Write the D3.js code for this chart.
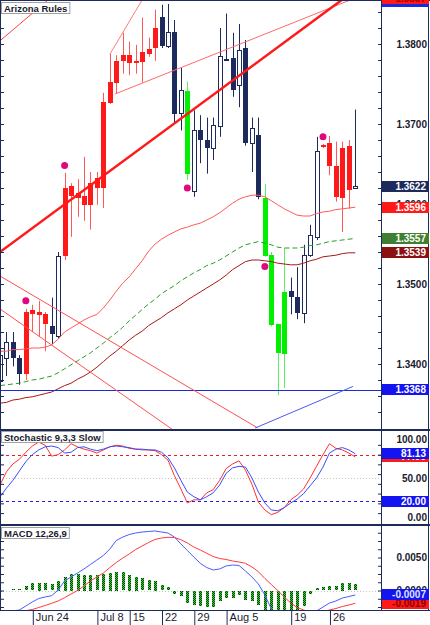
<!DOCTYPE html>
<html>
<head>
<meta charset="utf-8">
<script src="https://cdn.jsdelivr.net/npm/d3@7"></script>
<style>
body{margin:0;background:#fff;}
svg{display:block;font-family:"Liberation Sans",Arial,sans-serif;}
</style>
</head>
<body>
<svg id="chart" width="430" height="625"></svg>
<script>
// ---- data ----
const firstBar = -5; // bar index of leftmost candle, 0 = Jun 24
const kinds = ['u','u','d','d','r', 'r','r','r','d','u', 'r','r','r','r','r', 'r','r','r','r','r',
  'r','r','r','r','r', 'd','u','d','u','g', 'u','d','d','u','u', 'd','d','u','d','u',
  'd','g','g','g','g', 'd','d','u','u','u', 'r','r','r','r','r', 'u'];
const opens = [1.3379,1.3408,1.3427,1.3408,1.3388, 1.3467,1.3465,1.3462,1.3447,1.3435,
  1.3535,1.3622,1.3614,1.3610,1.3599, 1.3620,1.3620,1.3727,1.3752,1.3779,
  1.3786,1.3779,1.3778,1.3788,1.3795, 1.3834,1.3798,1.3815,1.3713,1.3741,
  1.3617,1.3693,1.3680,1.3670,1.3697, 1.3781,1.3783,1.3748,1.3795,1.3676,
  1.3686,1.3608,1.3536,1.3450,1.3412, 1.3491,1.3484,1.3463,1.3536,1.3559,
  1.3674,1.3676,1.3647,1.3608,1.3673, 1.3619];
const highs = [1.3430,1.3440,1.3440,1.3411,1.3469, 1.3474,1.3479,1.3465,1.3483,1.3540,
  1.3639,1.3626,1.3631,1.3659,1.3640, 1.3640,1.3739,1.3788,1.3786,1.3814,
  1.3803,1.3799,1.3833,1.3808,1.3843, 1.3849,1.3850,1.3830,1.3770,1.3753,
  1.3717,1.3711,1.3708,1.3708,1.3820, 1.3838,1.3814,1.3825,1.3805,1.3708,
  1.3708,1.3625,1.3540,1.3450,1.3545, 1.3508,1.3521,1.3549,1.3574,1.3684,
  1.3675,1.3685,1.3678,1.3678,1.3680, 1.3718];
const lows = [1.3374,1.3385,1.3397,1.3374,1.3380, 1.3440,1.3434,1.3416,1.3425,1.3432,
  1.3530,1.3559,1.3584,1.3579,1.3568, 1.3599,1.3595,1.3725,1.3738,1.3763,
  1.3761,1.3763,1.3752,1.3784,1.3779, 1.3795,1.3795,1.3701,1.3692,1.3630,
  1.3609,1.3651,1.3638,1.3655,1.3684, 1.3779,1.3734,1.3721,1.3673,1.3640,
  1.3606,1.3534,1.3447,1.3361,1.3370, 1.3462,1.3456,1.3451,1.3534,1.3555,
  1.3670,1.3636,1.3603,1.3565,1.3594, 1.3619];
const closes = [1.3411,1.3428,1.3407,1.3388,1.3465, 1.3462,1.3461,1.3449,1.3437,1.3535,
  1.3620,1.3609,1.3608,1.3599,1.3626, 1.3633,1.3728,1.3753,1.3779,1.3786,
  1.3776,1.3777,1.3790,1.3794,1.3820, 1.3798,1.3815,1.3713,1.3742,1.3637,
  1.3693,1.3680,1.3670,1.3699,1.3785, 1.3779,1.3743,1.3792,1.3676,1.3695,
  1.3608,1.3536,1.3449,1.3414,1.3490, 1.3484,1.3464,1.3536,1.3561,1.3666,
  1.3671,1.3647,1.3608,1.3670,1.3618, 1.3622];

const upperBand = [1.3416,1.3416,1.3418,1.3418,1.3419, 1.3420,1.3420,1.3421,1.3424,1.3431,
  1.3440,1.3445,1.3450,1.3455,1.3459, 1.3462,1.3470,1.3480,1.3491,1.3501,
  1.3509,1.3519,1.3529,1.3541,1.3550, 1.3556,1.3561,1.3565,1.3569,1.3571,
  1.3574,1.3576,1.3580,1.3584,1.3589, 1.3595,1.3601,1.3606,1.3609,1.3611,
  1.3611,1.3609,1.3604,1.3599,1.3594, 1.3590,1.3586,1.3585,1.3585,1.3588,
  1.3590,1.3591,1.3593,1.3594,1.3595, 1.3596];
const midLine = [1.3373,1.3374,1.3375,1.3376,1.3378, 1.3380,1.3381,1.3383,1.3385,1.3389,
  1.3394,1.3399,1.3404,1.3409,1.3414, 1.3420,1.3426,1.3433,1.3439,1.3446,
  1.3454,1.3461,1.3468,1.3475,1.3481, 1.3488,1.3493,1.3498,1.3504,1.3509,
  1.3514,1.3518,1.3523,1.3526,1.3530, 1.3535,1.3540,1.3545,1.3549,1.3551,
  1.3553,1.3551,1.3549,1.3546,1.3545, 1.3545,1.3545,1.3546,1.3548,1.3549,
  1.3551,1.3553,1.3554,1.3555,1.3556, 1.3557];
const lowerBand = [1.3351,1.3352,1.3355,1.3356,1.3358, 1.3359,1.3361,1.3363,1.3365,1.3369,
  1.3373,1.3376,1.3381,1.3385,1.3390, 1.3396,1.3403,1.3410,1.3416,1.3423,
  1.3430,1.3436,1.3441,1.3448,1.3453, 1.3458,1.3464,1.3469,1.3474,1.3480,
  1.3485,1.3490,1.3495,1.3500,1.3505, 1.3511,1.3518,1.3523,1.3528,1.3530,
  1.3530,1.3529,1.3528,1.3526,1.3525, 1.3524,1.3524,1.3526,1.3529,1.3531,
  1.3534,1.3535,1.3536,1.3538,1.3539, 1.3539];

const dotBars = [-1, 5, 24, 36, 45];
const dotPrices = [1.3479, 1.3648, 1.3620, 1.3522, 1.3684];

// trend lines: [bar, price] start and end
const trendFrom = [[-5,1.3804],[12.03,1.37875],[12.8,1.37375],[-5,1.3540],[-5,1.3510],[-5,1.34688],[34.5,1.3320]];
const trendTo   = [[2.43,1.3855],[17,1.3855],[49.2,1.3855],[47.9,1.3855],[34.9,1.3320],[21.8,1.33175],[49.65,1.3372]];
const trendColors = ['#ff4040','#ff7a7a','#ff6a6a','#ff1a1a','#ff5050','#ff5050','#4a5cf0'];
const trendWidths = [1,1,1,2.5,1,1,1];
const supportLevel = 1.3368;

const stochMain = [41,58,68,74,83, 91,96,92,78,80, 86,94,90,87,85, 82,86,90,92,91,
  88,87,86,86,85, 80,73,53,36,18, 22,22,31,35,47, 62,68,72,60,42,
  19,9,3,6,12, 22,28,36,50,65, 80,94,88,86,82, 77];
const stochSignal = [26,37,47,59,71, 80,86,90,91,89, 82,83,89,90,87, 85,87,90,91,90,
  89,87,87,86,86, 83,76,63,47,32, 26,22,26,31,41, 56,63,65,64,50,
  32,18,9,8,12, 18,23,30,40,50, 64,82,87,89,86, 81.13];

// MACD values in units of 0.0001
const macdMain = [-36,-33,-31,-29.5,-23.5, -17.4,-12.1,-9.8,-7.9,0.8, 14.4,20.5,26.5,32.6,39.4,
  46.2,53,62.9,75.8,81, 84.8,87.1,88.6,89.4,90.2, 88.6,87.1,81,70.5,60.6,
  50.8,41.2,34.8,31.1,32.6, 37.1,38.6,37.9,29.5,20.5, 9.8,-6.8,-28,-40,-48,
  -52,-52,-47,-38,-31, -25,-19,-15.9,-11.4,-9.1, -6.8];
const macdSignal = [-45,-42,-39,-35,-30.5, -28.8,-25.8,-22.7,-19.4,-15.9, -10.9,-5.3,0,6.8,14.4,
  20.5,26.5,34.8,42.4,49.2, 55.3,62.1,67.4,72.7,77.3, 79.5,80.6,80.3,77,72,
  65.9,61.4,56.4,51.5,48.5, 47,44.7,43.2,41.2,35.6, 28.5,18.2,9.1,0,-9.8,
  -18.9,-25.8,-29.5,-33,-34, -32,-29.5,-27.3,-24.2,-22, -19.4];
const macdHist = [-1,0,1.8,1.8,6.8, 10.9,11.8,10.9,9.4,14.8, 20.9,25,25,23.9,23.9,
  23,25,27,28.5,27.6, 23.9,20.9,18.5,15.9,14.4, 8.3,4.8,-4.2,-8.3,-18.5,
  -20.9,-22.4,-24.5,-24.5,-14.4, -10.3,-10.3,-6.8,-12.9,-15.9, -20.5,-30,-35,-38,-38,
  -35,-32,-22,-5.3,3.3, 4.8,6.8,6.8,11.8,10.9, 9.8];

const dateLabels = ['Jun 24','Jul 8','15','22','29','Aug 5','19','26'];
const dateBars = [0, 10, 15, 20, 25, 30, 40, 46];

const priceTicks = [1.38, 1.37, 1.36, 1.35, 1.34];
const stochTicks = [100, 50, 0];
const macdTicks = [50, 0];

// ---- layout ----
const NAVY = '#1c2a5c';
const plotW = 381;
const svg = d3.select('#chart');
const bars = d3.range(kinds.length).map(k => firstBar + k);
const candles = bars.map((b, k) => ({b, k: kinds[k], o: opens[k], h: highs[k], l: lows[k], c: closes[k]}));

const x = d3.scaleLinear().domain([-5, 50]).range([0, 355.3]);
const yMain = d3.scaleLinear().domain([1.3855, 1.3320]).range([0, 428]);
const yStoch = d3.scaleLinear().domain([0, 100]).range([517, 439]);
const yMacd = d3.scaleLinear().domain([0, 50]).range([590.5, 557.5]);
const px = b => Math.round(x(b)) + 0.5;

const defs = svg.append('defs');
function addClip(id, y0, y1){
	defs.append('clipPath').attr('id', id).append('rect')
		.attr('x', 1).attr('y', y0).attr('width', plotW - 1).attr('height', y1 - y0);
}
addClip('clipMain', 1, 429);
addClip('clipStoch', 431, 524);
addClip('clipMacd', 526, 610);
const pat = defs.append('pattern').attr('id', 'dots').attr('width', 2).attr('height', 2)
	.attr('patternUnits', 'userSpaceOnUse');
pat.append('rect').attr('width', 2).attr('height', 2).attr('fill', '#0b3d0b');
pat.append('rect').attr('width', 1).attr('height', 1).attr('fill', '#2fd02f');
pat.append('rect').attr('x', 1).attr('y', 1).attr('width', 1).attr('height', 1).attr('fill', '#2fd02f');

svg.append('rect').attr('width', 430).attr('height', 625).attr('fill', '#fff');

// ---- main panel ----
const main = svg.append('g').attr('clip-path', 'url(#clipMain)');

const wickCol = {u: NAVY, d: NAVY, r: '#ff5858', g: '#5cf05c'};
const bodyCol = {u: '#fff', d: NAVY, r: '#ff1a1a', g: '#00f000'};

main.selectAll('line.wick').data(candles).join('line')
	.attr('x1', d => px(d.b)).attr('x2', d => px(d.b))
	.attr('y1', d => yMain(d.h)).attr('y2', d => yMain(d.l))
	.attr('stroke', d => wickCol[d.k]).attr('stroke-width', 1);

main.selectAll('rect.body').data(candles).join('rect')
	.attr('x', d => d.k === 'u' ? px(d.b) - 2 : px(d.b) - 2.5)
	.attr('width', d => d.k === 'u' ? 4 : 5)
	.attr('y', d => Math.round(yMain(Math.max(d.o, d.c))) + (d.k === 'u' ? 0.5 : 0))
	.attr('height', d => Math.max(d.k === 'u' ? 1 : 2, Math.round(Math.abs(yMain(d.o) - yMain(d.c)))))
	.attr('fill', d => bodyCol[d.k])
	.attr('stroke', d => d.k === 'u' ? NAVY : 'none')
	.attr('stroke-width', 1);

function drawLine(g, vals, scale, color, width, dash){
	const gen = d3.line().x((v, k) => x(bars[k])).y(v => scale(v)).curve(d3.curveLinear);
	g.append('path').datum(vals).attr('d', gen)
		.attr('fill', 'none').attr('stroke', color).attr('stroke-width', width)
		.attr('stroke-dasharray', dash || null);
}
drawLine(main, upperBand, yMain, '#ff5a5a', 1);
drawLine(main, midLine, yMain, '#2a9a2a', 1, '5,3');
drawLine(main, lowerBand, yMain, '#a81818', 1);

main.append('line')
	.attr('x1', 0).attr('x2', plotW)
	.attr('y1', Math.round(yMain(supportLevel)) + 0.5).attr('y2', Math.round(yMain(supportLevel)) + 0.5)
	.attr('stroke', '#1a2ae0').attr('stroke-width', 1);

trendFrom.forEach((a, k) => {
	const b = trendTo[k];
	main.append('line')
		.attr('x1', x(a[0])).attr('y1', yMain(a[1]))
		.attr('x2', x(b[0])).attr('y2', yMain(b[1]))
		.attr('stroke', trendColors[k]).attr('stroke-width', trendWidths[k]);
});

main.selectAll('circle.dot').data(dotBars).join('circle')
	.attr('cx', b => x(b)).attr('cy', (b, k) => yMain(dotPrices[k]))
	.attr('r', 3.5).attr('fill', '#e0087e');

// ---- stochastic panel ----
const stoch = svg.append('g').attr('clip-path', 'url(#clipStoch)');
stoch.append('line').attr('x1', 0).attr('x2', plotW)
	.attr('y1', Math.round(yStoch(50)) + 0.5).attr('y2', Math.round(yStoch(50)) + 0.5)
	.attr('stroke', '#c8c8c8').attr('stroke-dasharray', '1,2');
stoch.append('line').attr('x1', 0).attr('x2', plotW)
	.attr('y1', Math.round(yStoch(80)) + 0.5).attr('y2', Math.round(yStoch(80)) + 0.5)
	.attr('stroke', '#e02020').attr('stroke-dasharray', '3,3');
stoch.append('line').attr('x1', 0).attr('x2', plotW)
	.attr('y1', Math.round(yStoch(20)) + 0.5).attr('y2', Math.round(yStoch(20)) + 0.5)
	.attr('stroke', '#2020e0').attr('stroke-dasharray', '3,3');
drawLine(stoch, stochMain, yStoch, '#ff3030', 1);
drawLine(stoch, stochSignal, yStoch, '#3a4cff', 1);

// ---- MACD panel ----
const macd = svg.append('g').attr('clip-path', 'url(#clipMacd)');
macd.append('line').attr('x1', 0).attr('x2', plotW)
	.attr('y1', Math.round(yMacd(0)) + 0.5).attr('y2', Math.round(yMacd(0)) + 0.5)
	.attr('stroke', '#c8c8c8').attr('stroke-dasharray', '1,2');
macd.selectAll('rect.hist').data(macdHist).join('rect')
	.attr('x', (v, k) => Math.round(x(bars[k])) - 1)
	.attr('width', 3)
	.attr('y', v => Math.round(Math.min(yMacd(v), yMacd(0))))
	.attr('height', v => Math.round(Math.abs(yMacd(v) - yMacd(0))))
	.attr('fill', 'url(#dots)');
drawLine(macd, macdMain, yMacd, '#4a5cff', 1);
drawLine(macd, macdSignal, yMacd, '#ff3a3a', 1);

// ---- frames ----
const frame = svg.append('g');
frame.append('line').attr('x1', 0.5).attr('x2', 0.5).attr('y1', 0).attr('y2', 611).attr('stroke', NAVY);
frame.append('line').attr('x1', 0).attr('x2', 430).attr('y1', 0.5).attr('y2', 0.5).attr('stroke', NAVY);
frame.append('line').attr('x1', plotW + 0.5).attr('x2', plotW + 0.5).attr('y1', 0).attr('y2', 611).attr('stroke', NAVY);
frame.append('line').attr('x1', 428.5).attr('x2', 428.5).attr('y1', 0).attr('y2', 611).attr('stroke', NAVY);
frame.append('rect').attr('x', 0).attr('y', 429).attr('width', 430).attr('height', 2).attr('fill', NAVY);
frame.append('rect').attr('x', 0).attr('y', 524).attr('width', 430).attr('height', 2).attr('fill', NAVY);
frame.append('rect').attr('x', 0).attr('y', 610).attr('width', 430).attr('height', 1).attr('fill', NAVY);

// ---- axes ----
function styleAxis(g){
	g.select('.domain').remove();
	g.selectAll('line').attr('stroke', NAVY);
	g.selectAll('text').attr('fill', '#1a1a2e')
		.style('font-size', '10px').style('font-weight', 'bold')
		.style('font-family', '"Liberation Sans",Arial,sans-serif');
}
function minorTicks(scale, values){
	const gl = svg.append('g').attr('transform', `translate(${plotW},0)`)
		.call(d3.axisLeft(scale).tickValues(values).tickSize(3).tickFormat(''));
	styleAxis(gl);
	const gr = svg.append('g').attr('transform', 'translate(1,0)')
		.call(d3.axisRight(scale).tickValues(values).tickSize(3).tickFormat(''));
	styleAxis(gr);
}
minorTicks(yMain, d3.range(0, 27).map(k => 1.334 + k * 0.002));
minorTicks(yStoch, d3.range(0, 9).map(k => 5 + k * 12.5).filter(v => v < 100));
minorTicks(yMacd, d3.range(-4, 10).map(k => k * 12.5).filter(v => v > -29 && v < 100));

const labelAxis = (scale, vals, fmt) => {
	const g = svg.append('g').attr('transform', 'translate(427,0)')
		.call(d3.axisLeft(scale).tickValues(vals).tickFormat(fmt).tickSize(0).tickPadding(0));
	styleAxis(g);
	return g;
};
labelAxis(yMain, priceTicks, d3.format('.4f'));
labelAxis(yStoch, stochTicks, d3.format('.2f'));
labelAxis(yMacd, macdTicks, d => (d / 10000).toFixed(4));

const xAxis = svg.append('g').attr('transform', 'translate(0,611)')
	.call(d3.axisBottom(x).tickValues(dateBars).tickSize(14).tickFormat((d, k) => dateLabels[k]));
styleAxis(xAxis);
xAxis.selectAll('.tick line').attr('transform', 'translate(0.5,0)');
xAxis.selectAll('.tick text').attr('x', 3).attr('y', 2).attr('dy', '0.71em')
	.attr('text-anchor', 'start').style('font-weight', 'normal').style('font-size', '11px');

// ---- price tags on the right scale ----
function tag(y, text, fill, textColor, h){
	const g = svg.append('g');
	const hh = h || 11;
	g.append('rect').attr('x', plotW + 1).attr('y', Math.round(y - hh / 2)).attr('width', 47).attr('height', hh)
		.attr('fill', fill);
	g.append('text').attr('x', 426).attr('y', y).attr('dy', '0.35em').attr('text-anchor', 'end')
		.attr('fill', textColor).style('font-size', '10px').style('font-weight', 'bold').text(text);
}
const fmt4 = d3.format('.4f');
const last = kinds.length - 1;
tag(yMain(1.3854), '', '#1a2ae0', '#fff', 12);
tag(yMain(1.3857), '1.3857', '#ff1a1a', '#b00000', 11);
tag(yMain(closes[last]), fmt4(closes[last]), NAVY, '#fff');
tag(yMain(upperBand[last]), fmt4(upperBand[last]), '#ff1a1a', '#fff');
tag(yMain(midLine[last]), fmt4(midLine[last]), '#3f7f2f', '#fff');
tag(yMain(lowerBand[last]), fmt4(lowerBand[last]), '#8b1010', '#fff');
tag(yMain(supportLevel), fmt4(supportLevel), '#1414f0', '#fff');

tag(yStoch(stochMain[last]), stochMain[last].toFixed(2), '#ff1a1a', '#fff');
tag(yStoch(stochSignal[last]), stochSignal[last].toFixed(2), '#1414f0', '#fff');
tag(yStoch(20), '20.00', '#1414f0', '#fff');
tag(yMacd(macdSignal[last]), (macdSignal[last] / 10000).toFixed(4), '#ff1a1a', '#8b0000');
tag(yMacd(macdMain[last]), (macdMain[last] / 10000).toFixed(4), '#1414f0', '#dfe3ff');

// ---- panel titles ----
function panelTitle(px0, py0, text){
	const g = svg.append('g');
	const t = g.append('text').attr('x', px0 + 3).attr('y', py0 + 9.5)
		.attr('fill', '#1a1a2e').style('font-size', '9.5px').style('font-weight', 'bold').text(text);
	const w = t.node().getComputedTextLength();
	g.insert('rect', 'text').attr('x', px0 + 0.5).attr('y', py0 + 0.5).attr('width', w + 5).attr('height', 11)
		.attr('fill', '#fff').attr('stroke', '#a0a0a0');
}
panelTitle(1, 2, 'Arizona Rules');
panelTitle(1, 431, 'Stochastic 9,3,3 Slow');
panelTitle(1, 527, 'MACD 12,26,9');
</script>
</body>
</html>
